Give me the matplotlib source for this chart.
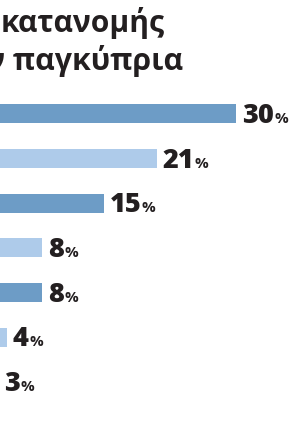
import matplotlib
matplotlib.use("Agg")
import matplotlib.pyplot as plt

# ---- data ----
title_line1 = "κατανομής"
title_line2 = "ν παγκύπρια"
shares = [30, 21, 15, 8, 8, 4, 3]
bar_colors = ["#6d9cc6", "#aecbea", "#6d9cc6", "#aecbea", "#6d9cc6", "#aecbea", "#6d9cc6"]

W, H, DPI = 289, 424, 100
TXT = "#231f20"
FONT = ["Open Sans", "DejaVu Sans"]

fig = plt.figure(figsize=(W / DPI, H / DPI), dpi=DPI)
fig.patch.set_facecolor("white")
ax = fig.add_axes([0, 0, 1, 1])
ax.set_axis_off()

rows = list(range(len(shares)))
px_per_unit = 8.8
x0_px = 28.3
ax.set_xlim(x0_px / px_per_unit, x0_px / px_per_unit + W / px_per_unit)
row_px = 44.67
first_px = 113.7
ax.set_ylim((H - first_px) / row_px, -first_px / row_px)

ax.barh(rows, shares, height=19 / row_px, color=bar_colors, edgecolor="none")

pt = 72 / DPI
fig.canvas.draw()
renderer = fig.canvas.get_renderer()
for r, v in zip(rows, shares):
    t = ax.annotate(str(v), xy=(v, r), xytext=(6 * pt, -9.3 * pt),
                    textcoords="offset points", ha="left", va="baseline",
                    fontsize=19.5, fontweight="heavy", color=TXT, family=FONT,
                    annotation_clip=False)
    bb = t.get_window_extent(renderer)
    ax.annotate("%", xy=(v, r), xytext=((6 + bb.width + 0.5) * pt, -9.3 * pt),
                textcoords="offset points", ha="left", va="baseline",
                fontsize=11, fontweight="bold", color=TXT, family=FONT,
                annotation_clip=False)

fig.text(1 / W, 1 - 31.7 / H, title_line1, ha="left", va="baseline",
         fontsize=21.6, fontweight="bold", color=TXT, family=FONT)
fig.text(183 / W, 1 - 70 / H, title_line2, ha="right", va="baseline",
         fontsize=21.8, fontweight="bold", color=TXT, family=FONT)

fig.savefig("out.png", dpi=DPI)
